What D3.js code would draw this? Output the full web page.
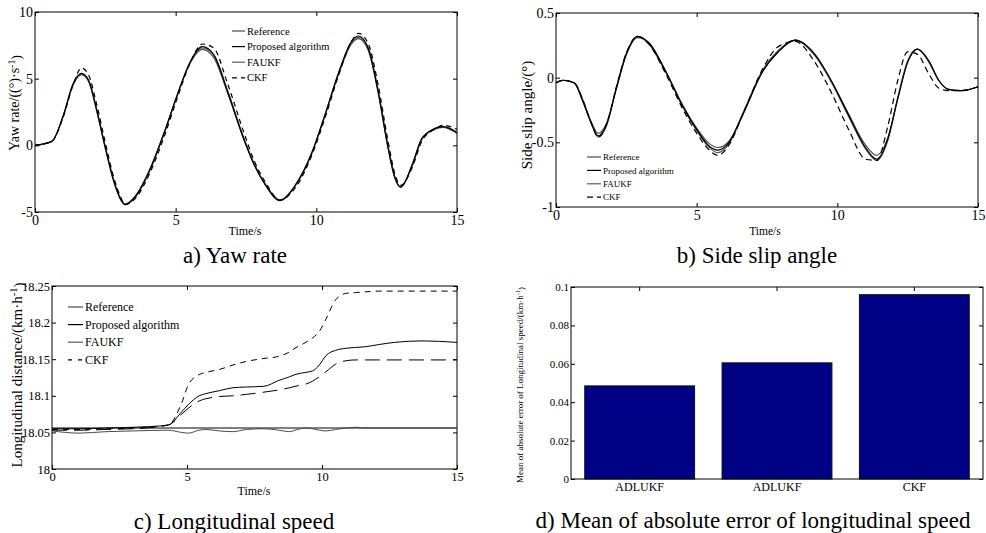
<!DOCTYPE html>
<html>
<head>
<meta charset="utf-8">
<script src="https://cdn.jsdelivr.net/npm/d3@7"></script>
<style>
  body { margin: 0; background: #fff; }
  svg { display: block; }
  svg text { font-family: "Liberation Serif", "Times New Roman", serif; }
</style>
</head>
<body>
<svg id="chart" width="986" height="533"></svg>
<script>
// ---- data ----
const timeTicks = [0, 5, 10, 15];

// a) yaw rate
const yawTicks = [-5, 0, 5, 10];
const yawTime = [0, 0.6, 1.0, 1.35, 1.65, 1.9, 2.2, 2.5, 2.8, 3.05, 3.2, 3.6, 4.1, 4.6, 5.05, 5.5, 5.95, 6.35, 6.85, 7.45, 7.8, 8.2, 8.7, 9.25, 9.85, 10.3, 10.8, 11.25, 11.5, 11.85, 12.2, 12.55, 12.8, 13.0, 13.4, 13.75, 14.2, 14.5, 15];
const yawRef = [0, 0.3, 2.2, 4.5, 5.3, 4.8, 2.5, -0.2, -2.7, -4.0, -4.4, -3.7, -1.7, 1.0, 3.7, 6.1, 7.2, 6.6, 3.9, 0.3, -1.5, -3.0, -4.1, -3.0, -0.5, 2.2, 5.4, 7.6, 8.0, 7.1, 3.9, -0.2, -2.5, -3.1, -1.5, 0.5, 1.2, 1.35, 0.9];
const yawProposed = [0, 0.3, 2.2, 4.6, 5.4, 4.9, 2.6, -0.2, -2.7, -4.1, -4.45, -3.75, -1.75, 1.0, 3.75, 6.2, 7.4, 6.8, 4.0, 0.3, -1.5, -3.0, -4.15, -3.0, -0.5, 2.25, 5.5, 7.8, 8.2, 7.25, 4.0, -0.2, -2.5, -3.15, -1.5, 0.5, 1.25, 1.4, 0.95];
const yawFaukf = [0, 0.3, 2.15, 4.55, 5.35, 4.9, 2.6, -0.1, -2.6, -4.05, -4.4, -3.8, -1.8, 0.95, 3.7, 6.15, 7.3, 6.8, 4.1, 0.4, -1.4, -2.95, -4.1, -3.05, -0.55, 2.2, 5.45, 7.7, 8.1, 7.3, 4.1, 0, -2.4, -3.1, -1.6, 0.45, 1.25, 1.4, 1.0];
const yawCkf = [0, 0.3, 2.1, 4.5, 5.8, 5.3, 3.0, 0.2, -2.4, -3.9, -4.45, -3.9, -2.0, 0.7, 3.5, 6.1, 7.6, 7.3, 4.6, 0.8, -1.2, -2.8, -4.1, -3.2, -0.7, 2.0, 5.3, 7.8, 8.4, 7.6, 4.5, 0.3, -2.2, -3.0, -1.7, 0.3, 1.2, 1.5, 1.2];

// b) side slip angle
const slipTicks = [-1, -0.5, 0, 0.5];
const slipTime = [0, 0.25, 0.65, 0.95, 1.25, 1.5, 1.8, 2.15, 2.5, 2.9, 3.3, 3.9, 4.5, 5.0, 5.45, 5.75, 6.15, 6.65, 7.35, 7.9, 8.5, 9.2, 9.8, 10.4, 11.0, 11.4, 11.8, 12.15, 12.5, 12.85, 13.25, 13.6, 13.95, 14.4, 15];
const slipRef = [-0.04, -0.02, -0.04, -0.17, -0.34, -0.43, -0.35, -0.08, 0.18, 0.31, 0.27, 0.05, -0.21, -0.39, -0.51, -0.54, -0.49, -0.28, 0.05, 0.2, 0.29, 0.18, -0.03, -0.28, -0.52, -0.6, -0.46, -0.16, 0.12, 0.22, 0.13, -0.02, -0.09, -0.1, -0.07];
const slipProposed = [-0.04, -0.02, -0.04, -0.18, -0.35, -0.45, -0.36, -0.08, 0.18, 0.32, 0.27, 0.05, -0.22, -0.4, -0.53, -0.56, -0.5, -0.28, 0.05, 0.2, 0.29, 0.18, -0.03, -0.29, -0.54, -0.63, -0.47, -0.16, 0.12, 0.22, 0.13, -0.02, -0.09, -0.1, -0.07];
const slipFaukf = [-0.04, -0.02, -0.04, -0.18, -0.35, -0.46, -0.37, -0.07, 0.19, 0.32, 0.26, 0.04, -0.22, -0.41, -0.54, -0.58, -0.51, -0.27, 0.06, 0.21, 0.29, 0.17, -0.04, -0.3, -0.55, -0.64, -0.48, -0.15, 0.13, 0.22, 0.12, -0.02, -0.09, -0.1, -0.07];
const slipCkf = [-0.04, -0.02, -0.04, -0.17, -0.35, -0.46, -0.36, -0.07, 0.19, 0.32, 0.26, 0.03, -0.24, -0.43, -0.56, -0.6, -0.52, -0.28, 0.07, 0.24, 0.28, 0.12, -0.12, -0.4, -0.63, -0.64, -0.37, -0.02, 0.2, 0.18, 0.03, -0.08, -0.1, -0.1, -0.07];

// c) longitudinal speed
const speedTicks = [18, 18.05, 18.1, 18.15, 18.2, 18.25];
const speedTime = [0, 1, 2, 3, 4.3, 4.8, 5.05, 5.45, 5.7, 6.2, 6.7, 7.2, 7.85, 8.4, 8.8, 9.0, 9.4, 9.65, 9.9, 10.15, 10.5, 10.9, 11.25, 11.6, 12.1, 12.7, 13.7, 15];
const speedRef = [18.056, 18.056, 18.056, 18.056, 18.056, 18.056, 18.056, 18.056, 18.056, 18.056, 18.056, 18.056, 18.056, 18.056, 18.056, 18.056, 18.056, 18.056, 18.056, 18.056, 18.056, 18.056, 18.056, 18.056, 18.056, 18.056, 18.056, 18.056];
const speedProposed = [18.052, 18.049, 18.051, 18.052, 18.053, 18.05, 18.049, 18.053, 18.054, 18.052, 18.051, 18.054, 18.055, 18.053, 18.051, 18.053, 18.056, 18.055, 18.053, 18.052, 18.054, 18.056, 18.057, 18.056, 18.056, 18.056, 18.056, 18.056];
const speedFaukf = [18.055, 18.055, 18.056, 18.057, 18.06, 18.078, 18.088, 18.1, 18.103, 18.107, 18.111, 18.112, 18.113, 18.121, 18.126, 18.129, 18.132, 18.134, 18.142, 18.155, 18.162, 18.165, 18.166, 18.167, 18.17, 18.173, 18.175, 18.173];
const speedCkf = [18.054, 18.054, 18.055, 18.056, 18.06, 18.09, 18.115, 18.129, 18.132, 18.136, 18.142, 18.147, 18.151, 18.154, 18.16, 18.165, 18.173, 18.179, 18.188, 18.205, 18.231, 18.24, 18.241, 18.242, 18.243, 18.243, 18.243, 18.243];
const speedLongDash = [18.053, 18.053, 18.054, 18.055, 18.06, 18.075, 18.083, 18.093, 18.096, 18.099, 18.1, 18.102, 18.105, 18.108, 18.111, 18.113, 18.116, 18.12, 18.126, 18.133, 18.143, 18.148, 18.149, 18.149, 18.149, 18.149, 18.149, 18.149];

// d) mean absolute error
const errTicks = [0, 0.02, 0.04, 0.06, 0.08, 0.1];
const errCategories = ["ADLUKF", "ADLUKF", "CKF"];
const errValues = [0.0485, 0.0605, 0.096];

const legendNames = ["Reference", "Proposed algorithm", "FAUKF", "CKF"];

// ---- drawing ----
const serif = "Liberation Serif";
const svg = d3.select("#chart");

const styles = {
    ref: { stroke: "#4a4a4a", dash: null },
    prop: { stroke: "#000", dash: null },
    faukf: { stroke: "#5a5a5a", dash: null },
    ckf: { stroke: "#000", dash: "5,4" }
};

// box with inward ticks on all four sides (matlab look)
function drawFrame(x, y, yTickValues, tickFont, xTickValues) {
    const [x0, x1] = x.range();
    const [y0, y1] = y.range(); // y0 = bottom
    const g = svg.append("g");

    const bottom = (xTickValues ? d3.axisBottom(x).tickValues(xTickValues) : d3.axisBottom(x))
        .tickSize(-4).tickSizeOuter(0).tickPadding(3).tickFormat(d => String(d));
    const top = (xTickValues ? d3.axisTop(x).tickValues(xTickValues) : d3.axisTop(x))
        .tickSize(-4).tickSizeOuter(0).tickFormat("");
    const left = d3.axisLeft(y).tickValues(yTickValues)
        .tickSize(-4).tickSizeOuter(0).tickPadding(2).tickFormat(d => String(d));
    const right = d3.axisRight(y).tickValues(yTickValues)
        .tickSize(-4).tickSizeOuter(0).tickFormat("");

    g.append("g").attr("class", "xb").attr("transform", `translate(0,${y0})`).call(bottom);
    g.append("g").attr("transform", `translate(0,${y1})`).call(top);
    g.append("g").attr("transform", `translate(${x0},0)`).call(left);
    g.append("g").attr("transform", `translate(${x1},0)`).call(right);

    g.selectAll(".domain").remove();
    g.selectAll("g").attr("font-family", serif);
    g.selectAll("text")
        .attr("font-size", tickFont)
        .attr("fill", "#000");
    g.selectAll(".tick line").attr("stroke", "#000");

    g.append("rect")
        .attr("x", x0).attr("y", y1)
        .attr("width", x1 - x0).attr("height", y0 - y1)
        .attr("fill", "none").attr("stroke", "#000").attr("stroke-width", 1);
    return g;
}

function drawSeries(x, y, times, values, style, width) {
    const line = d3.line()
        .x((d, i) => x(times[i]))
        .y(d => y(d))
        .curve(d3.curveMonotoneX);
    svg.append("path")
        .datum(values)
        .attr("d", line)
        .attr("fill", "none")
        .attr("stroke", style.stroke)
        .attr("stroke-width", width || 1.2)
        .attr("stroke-dasharray", style.dash);
}

function drawLegend(x0, y0, rowH, lineLen, fontSize, items) {
    const g = svg.append("g");
    items.forEach((it, i) => {
        const yy = y0 + i * rowH;
        g.append("line")
            .attr("x1", x0).attr("x2", x0 + lineLen)
            .attr("y1", yy).attr("y2", yy)
            .attr("stroke", it.style.stroke)
            .attr("stroke-width", 1.2)
            .attr("stroke-dasharray", it.style.dash);
        g.append("text")
            .attr("x", x0 + lineLen + 2).attr("y", yy)
            .attr("dy", "0.35em")
            .attr("font-size", fontSize)
            .text(it.name);
    });
}

function text(x, y, str, size, anchor) {
    return svg.append("text")
        .attr("x", x).attr("y", y)
        .attr("font-size", size)
        .attr("text-anchor", anchor || "middle")
        .text(str);
}

// rotated label with a "-1" superscript piece
function yLabel(x, y, size, before, sup, after) {
    const t = svg.append("text")
        .attr("transform", `translate(${x},${y}) rotate(-90)`)
        .attr("font-size", size)
        .attr("text-anchor", "middle");
    t.append("tspan").text(before);
    if (sup) {
        t.append("tspan").attr("dy", "-0.45em").attr("font-size", size * 0.7).text(sup);
        t.append("tspan").attr("dy", "0.45em").text(after);
    }
}

// --- panel a ---
{
    const x = d3.scaleLinear().domain([0, 15]).range([35, 457]);
    const y = d3.scaleLinear().domain([-5, 10]).range([212, 12]);
    drawFrame(x, y, yawTicks, 14, timeTicks);
    drawSeries(x, y, yawTime, yawRef, styles.ref);
    drawSeries(x, y, yawTime, yawFaukf, styles.faukf);
    drawSeries(x, y, yawTime, yawCkf, styles.ckf);
    drawSeries(x, y, yawTime, yawProposed, styles.prop);
    drawLegend(232, 31, 15.6, 13, 10.5, [
        { name: legendNames[0], style: styles.ref },
        { name: legendNames[1], style: styles.prop },
        { name: legendNames[2], style: styles.faukf },
        { name: legendNames[3], style: styles.ckf }
    ]);
    text(245, 235, "Time/s", 12);
    yLabel(19, 103, 14, "Yaw rate/((°)·s", "-1", ")");
    text(235, 263, "a) Yaw rate", 23);
}

// --- panel b ---
{
    const x = d3.scaleLinear().domain([0, 15]).range([556, 978]);
    const y = d3.scaleLinear().domain([-1, 0.5]).range([207, 13]);
    drawFrame(x, y, slipTicks, 14, timeTicks);
    const ckf = { stroke: "#000", dash: "6,4" };
    drawSeries(x, y, slipTime, slipRef, styles.ref);
    drawSeries(x, y, slipTime, slipFaukf, styles.faukf);
    drawSeries(x, y, slipTime, slipCkf, ckf);
    drawSeries(x, y, slipTime, slipProposed, styles.prop);
    drawLegend(587, 157, 13.4, 14, 9, [
        { name: legendNames[0], style: styles.ref },
        { name: legendNames[1], style: styles.prop },
        { name: legendNames[2], style: styles.faukf },
        { name: legendNames[3], style: ckf }
    ]);
    text(765, 235, "Time/s", 11.5);
    yLabel(532, 115, 15, "Side slip angle/(°)");
    text(757, 263, "b) Side slip angle", 23);
}

// --- panel c ---
{
    const x = d3.scaleLinear().domain([0, 15]).range([52, 457]);
    const y = d3.scaleLinear().domain([18, 18.25]).range([469, 286]);
    drawFrame(x, y, speedTicks, 12.5, timeTicks);
    const shortDash = { stroke: "#000", dash: "6,5" };
    const longDash = { stroke: "#000", dash: "15,7" };
    drawSeries(x, y, speedTime, speedRef, { stroke: "#000", dash: null }, 1);
    drawSeries(x, y, speedTime, speedProposed, styles.ref, 1);
    drawSeries(x, y, speedTime, speedFaukf, styles.prop, 1);
    drawSeries(x, y, speedTime, speedLongDash, longDash, 1);
    drawSeries(x, y, speedTime, speedCkf, shortDash, 1);
    drawLegend(68, 307, 17.6, 15, 12, [
        { name: legendNames[0], style: styles.ref },
        { name: legendNames[1], style: styles.prop },
        { name: legendNames[2], style: styles.faukf },
        { name: legendNames[3], style: { stroke: "#000", dash: "4,6" } }
    ]);
    text(254, 495, "Time/s", 12);
    yLabel(22, 375, 15, "Longitudinal distance/(km·h", "-1", ")");
    text(234, 529, "c) Longitudinal speed", 23);
}

// --- panel d ---
{
    const x = d3.scaleBand().domain(d3.range(errCategories.length)).range([571, 983])
        .paddingInner(0.2).paddingOuter(0.1);
    const y = d3.scaleLinear().domain([0, 0.1]).range([479, 287]);

    svg.append("g").selectAll("rect")
        .data(errValues)
        .join("rect")
        .attr("x", (d, i) => x(i))
        .attr("y", d => y(d))
        .attr("width", x.bandwidth())
        .attr("height", d => y(0) - y(d))
        .attr("fill", "#000085")
        .attr("stroke", "#111")
        .attr("stroke-width", 1);

    const g = drawFrame(x, y, errTicks, 11, null);
    // category names instead of indices
    g.select(".xb").selectAll(".tick text")
        .text(d => errCategories[d])
        .attr("font-size", 12);

    yLabel(523, 385, 9, "Mean of absolute error of Longitudinal speed/(km·h", "-1", ")");
    text(753, 528, "d) Mean of absolute error of longitudinal speed", 23);
}
</script>
</body>
</html>
